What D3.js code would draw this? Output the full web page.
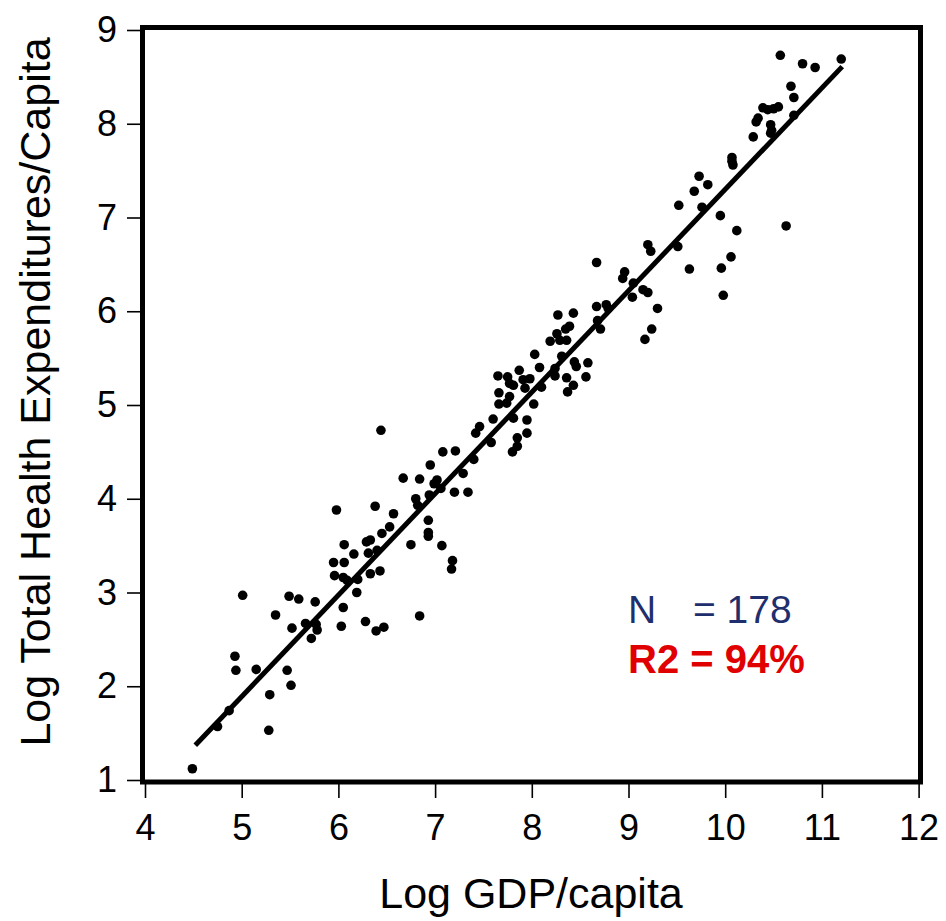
<!DOCTYPE html>
<html>
<head>
<meta charset="utf-8">
<script src="https://cdn.jsdelivr.net/npm/d3@7"></script>
<style>
    body { margin: 0; background: #fff; }
    svg { display: block; font-family: "Liberation Sans", Arial, sans-serif; }
</style>
</head>
<body>
<div id="chart"></div>
<script>
// log GDP per capita (x) and log total health expenditure per capita (y)
const gdp = [
    4.49, 4.75, 4.87, 5.28, 5.29, 5.51, 5.47, 5.15, 4.94, 4.93,
    5.01, 5.35, 5.52, 5.49, 5.59, 5.76, 5.66, 5.77, 5.78, 5.72,
    6.03, 6.05, 6.28, 6.39, 6.47, 6.19, 6.05, 5.96, 5.95, 6.06,
    6.16, 6.06, 5.98, 6.38, 6.57, 6.53, 6.45, 6.29, 6.33, 6.31,
    6.40, 6.33, 6.43, 6.20, 6.09, 6.44, 6.84, 6.75, 6.93, 6.93,
    6.93, 7.07, 7.18, 7.17, 6.80, 6.82, 6.67, 6.84, 6.94, 6.99,
    7.02, 7.06, 6.95, 7.08, 7.21, 7.20, 7.34, 7.29, 7.40, 7.42,
    7.46, 7.58, 7.60, 7.80, 7.85, 7.85, 7.95, 7.95, 7.81, 8.02,
    7.66, 7.74, 7.77, 7.66, 7.93, 7.65, 7.75, 7.81, 7.77, 7.87,
    7.98, 7.91, 8.10, 8.08, 8.03, 8.24, 8.24, 8.31, 8.36, 8.43,
    8.37, 8.44, 8.46, 8.58, 8.56, 8.19, 8.26, 8.29, 8.36, 8.35,
    8.39, 8.27, 8.43, 8.68, 8.71, 8.67, 8.77, 8.79, 8.67, 8.96,
    8.94, 9.05, 9.04, 9.15, 9.20, 9.30, 9.24, 9.17, 9.20, 9.23,
    9.51, 10.07, 10.08, 9.73, 9.82, 9.68, 9.52, 9.76, 9.95, 10.12,
    10.06, 9.96, 9.98, 9.63, 10.57, 10.80, 10.93, 11.20, 10.68, 10.71,
    10.39, 10.44, 10.50, 10.55, 10.34, 10.32, 10.47, 10.48, 10.47, 10.29,
    10.71, 10.63, 10.07
]
const health = [
    1.12, 1.57, 1.74, 1.53, 1.91, 2.01, 2.17, 2.18, 2.17, 2.32,
    2.97, 2.76, 2.62, 2.96, 2.93, 2.90, 2.67, 2.66, 2.60, 2.51,
    2.64, 2.84, 2.69, 2.59, 2.63, 3.00, 3.16, 3.18, 3.32, 3.32,
    3.41, 3.51, 3.88, 3.92, 3.84, 3.70, 3.63, 3.54, 3.56, 3.42,
    3.45, 3.20, 3.23, 3.14, 3.13, 4.73, 2.75, 3.51, 3.77, 3.64,
    3.60, 3.50, 3.34, 3.25, 4.00, 3.93, 4.22, 4.21, 4.04, 4.16,
    4.20, 4.11, 4.36, 4.50, 4.51, 4.07, 4.07, 4.27, 4.42, 4.70,
    4.77, 4.60, 4.85, 4.50, 4.56, 4.65, 4.70, 4.84, 4.86, 5.01,
    5.01, 5.02, 5.09, 5.13, 5.18, 5.31, 5.30, 5.21, 5.23, 5.37,
    5.28, 5.27, 5.19, 5.40, 5.54, 5.39, 5.31, 5.52, 5.29, 5.21,
    5.14, 5.46, 5.41, 5.45, 5.30, 5.68, 5.76, 5.69, 5.69, 5.81,
    5.84, 5.96, 5.98, 5.90, 5.81, 6.05, 6.07, 6.03, 6.52, 6.42,
    6.35, 6.30, 6.15, 6.23, 6.20, 6.03, 5.81, 5.70, 6.71, 6.64,
    6.69, 7.64, 7.56, 7.44, 7.35, 7.28, 7.13, 7.11, 7.02, 6.86,
    6.58, 6.46, 6.17, 6.45, 8.73, 8.64, 8.60, 8.69, 8.40, 8.28,
    8.17, 8.15, 8.16, 8.18, 8.06, 8.02, 7.99, 7.93, 7.90, 7.86,
    8.09, 6.91, 7.60
]

// fitted line: y = a + b*x, drawn over the range of the data
const fit = { a: -3.52, b: 1.082 }
const fitRange = [4.52, 11.21]

const xTicks = [4, 5, 6, 7, 8, 9, 10, 11, 12]
const yTicks = [1, 2, 3, 4, 5, 6, 7, 8, 9]
const nLabel = ["N", "= 178"]
const r2Label = "R2 = 94%"

const W = 946, H = 921

const svg = d3.select("#chart")
    .append("svg")
    .attr("width", W)
    .attr("height", H)

const x = d3.scaleLinear().domain([4, 12]).range([145, 918.6])
const y = d3.scaleLinear().domain([1, 9]).range([780, 30])

/* Y AXIS */
const y_axis = svg.append("g")
    .attr("transform", "translate(140, 0)")
    .call(d3.axisLeft(y).tickValues(yTicks).tickSize(13).tickPadding(10))
y_axis.select(".domain").remove()
y_axis.selectAll(".tick line").attr("stroke-width", 1.6)
y_axis.selectAll(".tick text")
    .attr("fill", "#000")
    .style("font-size", "36px")
    .style("font-family", "Liberation Sans, Arial, sans-serif")

/* X AXIS */
const x_axis = svg.append("g")
    .attr("transform", "translate(0, 784)")
    .call(d3.axisBottom(x).tickValues(xTicks).tickSize(14).tickPadding(16))
x_axis.select(".domain").remove()
x_axis.selectAll(".tick line").attr("stroke-width", 1.6)
x_axis.selectAll(".tick text")
    .attr("fill", "#000")
    .style("font-size", "36px")
    .style("font-family", "Liberation Sans, Arial, sans-serif")

/* FRAME */
svg.append("rect")
    .attr("x", 142.5)
    .attr("y", 27.5)
    .attr("width", 778)
    .attr("height", 754.5)
    .attr("fill", "none")
    .attr("stroke", "#000")
    .attr("stroke-width", 5)

/* POINTS */
const points = gdp.map((g, i) => ({ g, h: health[i] }))
svg.append("g")
    .selectAll("circle")
    .data(points)
    .enter()
    .append("circle")
    .attr("cx", d => x(d.g))
    .attr("cy", d => y(d.h))
    .attr("r", 4.8)
    .attr("fill", "#000")

/* FIT LINE */
const line = d3.line()
    .x(d => x(d))
    .y(d => y(fit.a + fit.b * d))
svg.append("path")
    .datum(fitRange)
    .attr("d", line)
    .attr("fill", "none")
    .attr("stroke", "#000")
    .attr("stroke-width", 5)

/* AXIS TITLES */
svg.append("text")
    .attr("x", 531)
    .attr("y", 908)
    .attr("text-anchor", "middle")
    .style("font-size", "43px")
    .text("Log GDP/capita")

svg.append("text")
    .attr("transform", "translate(50, 392) rotate(-90)")
    .attr("text-anchor", "middle")
    .style("font-size", "43px")
    .text("Log Total Health Expenditures/Capita")

/* ANNOTATION */
svg.append("text")
    .attr("x", 628)
    .attr("y", 623)
    .attr("fill", "#1f2f6e")
    .style("font-size", "39px")
    .text(nLabel[0])
svg.append("text")
    .attr("x", 693)
    .attr("y", 623)
    .attr("fill", "#1f2f6e")
    .style("font-size", "39px")
    .text(nLabel[1])
svg.append("text")
    .attr("x", 628)
    .attr("y", 673)
    .attr("fill", "#e00000")
    .style("font-size", "40px")
    .style("font-weight", "bold")
    .text(r2Label)
</script>
</body>
</html>
